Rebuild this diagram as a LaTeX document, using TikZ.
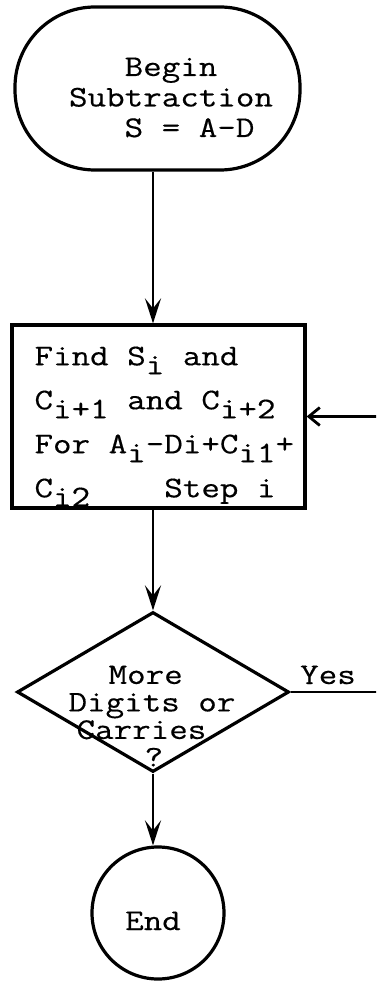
\documentclass[tikz,border=0pt]{standalone}
\usepackage{fontspec}
\newfontfamily\tw{Latin Modern Mono}[FakeStretch=1.2, FakeBold=0.4]
\usetikzlibrary{shapes.geometric, arrows.meta}
% typewriter-style subscript: same size, dropped half a line
\newcommand\lowr[1]{\raisebox{-9pt}{#1}}

\begin{document}
\begin{tikzpicture}[x=1pt, y=-1pt,
  shape line/.style={draw, line width=3.2pt, inner sep=0pt},
  label text/.style={inner sep=0pt, align=left, font=\tw\fontsize{30}{30.5}\selectfont},
  flow/.style={line width=2.8pt, -{Stealth[length=25pt, width=16pt, inset=10pt]}},
  loop flow/.style={line width=2.8pt, -{Straight Barb[length=11pt, width=18pt]}}
]
\fill[white] (0,0) rectangle (376,981);
\useasboundingbox (0,0) rectangle (376,981);
\clip (0,0) rectangle (376,981);

% shapes
\node[shape line, rectangle, rounded corners=80pt, minimum width=285pt, minimum height=163pt] (start) at (157.5,88.5) {};
\node[shape line, rectangle, minimum width=293pt, minimum height=183pt] (proc) at (158.5,416.5) {};
\node[shape line, diamond, aspect=1.7, minimum width=272pt, minimum height=160pt] (dec) at (153,692) {};
\node[shape line, circle, minimum size=132pt] (endc) at (158,913) {};

% texts
\node[label text] (starttext) at (171,97.5) {\phantom{xxx}Begin\\Subtraction\\\phantom{xxx}S = A-D};
\node[label text, font=\tw\fontsize{30}{44}\selectfont] (proctext) at (164.3,426.4)
  {Find S\lowr{i} and\\C\lowr{i+1} and C\lowr{i+2}\\For A\lowr{i}-Di+C\lowr{i1}+\\C\lowr{i2}\phantom{xxxx}Step i};
\node[label text, font=\tw\fontsize{30}{27.5}\selectfont] (dectext) at (152,716)
  {\hspace*{40pt}More\\Digits or\\\hspace*{8pt}Carries\\\hspace*{76pt}?};
\node[label text, anchor=base] (endtext) at (153,930) {End};
\node[label text, anchor=base] (yes) at (328,684) {Yes};

% connectors
\draw[flow] (start.south -| dec.north) -- (proc.north -| dec.north);
\draw[flow] (proc.south -| dec.north) -- (dec.north);
\draw[flow] (dec.south) -- (dec.south |- endc.north);
\draw[loop flow] (dec.east) -- ++(100,0) |- (proc.east);
\end{tikzpicture}
\end{document}
